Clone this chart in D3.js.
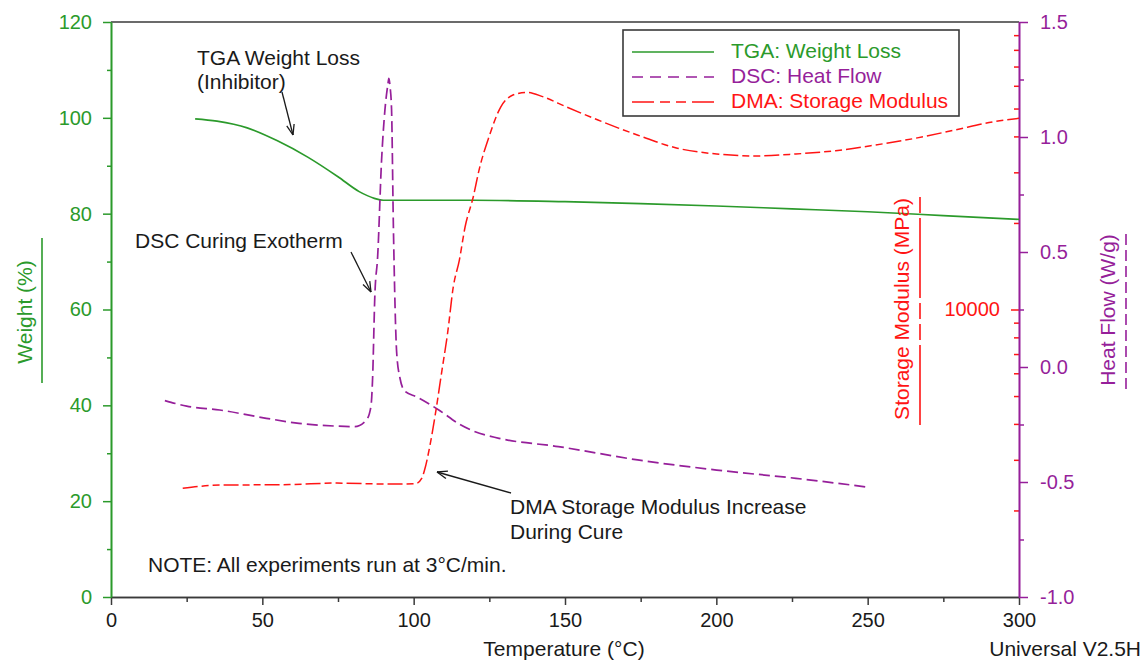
<!DOCTYPE html>
<html>
<head>
<meta charset="utf-8">
<script src="https://cdn.jsdelivr.net/npm/d3@7"></script>
<style>
  body { margin: 0; background: #fff; }
  text { font-family: "Liberation Sans", Arial, sans-serif; }
</style>
</head>
<body>
<svg id="chart" width="1146" height="660"></svg>
<script>
// TGA weight loss (%)
const tgaTemp = [27.8, 35, 45, 55, 65, 75, 82, 87, 90, 120, 150, 175, 200, 225, 250, 275, 300];
const tgaWeight = [99.8, 99.3, 97.9, 95.2, 91.8, 87.7, 84.6, 83.2, 82.8, 82.8, 82.5, 82.1, 81.6, 81.0, 80.4, 79.6, 78.8];

// DSC heat flow (W/g)
const dscTemp = [17.8, 25, 35.9, 51.3, 62.1, 74.4, 80.5, 84.4, 85.9, 86.4, 87.2, 88.1, 89.4, 90.5, 91.5, 91.8, 92.2, 92.7, 93.3, 94.4, 95.5, 97.1, 101, 108.3, 115.3, 120, 128.2, 147.8, 174, 200.1, 226.3, 250.5];
const dscHeatFlow = [-0.146, -0.17, -0.187, -0.223, -0.245, -0.257, -0.259, -0.23, -0.17, -0.06, 0.32, 0.48, 0.9, 1.117, 1.23, 1.255, 1.22, 1.117, 0.61, 0.06, -0.05, -0.105, -0.13, -0.187, -0.25, -0.28, -0.31, -0.346, -0.404, -0.448, -0.484, -0.523];

// DMA storage modulus (MPa), log axis
const dmaTemp = [23.7, 36, 59, 74.3, 92.8, 100.7, 102.7, 103.6, 105.3, 107.2, 109.2, 111.2, 113.1, 115.1, 117, 119.7, 121.6, 124.9, 128.8, 132.8, 137.3, 142.6, 150.4, 160.9, 173.9, 187.1, 200.1, 213.2, 226.3, 239.4, 252.5, 265.6, 278.7, 291.7, 300];
const dmaModulus = [2390, 2450, 2460, 2490, 2470, 2480, 2590, 2765, 3330, 4350, 6000, 8260, 12000, 14860, 19400, 24670, 30550, 39900, 50700, 55700, 56900, 55000, 50700, 45600, 40450, 36400, 34750, 34200, 34750, 35670, 37330, 39380, 42070, 45000, 46240];

const tempTicks = [0, 50, 100, 150, 200, 250, 300];
const tempMinorTicks = [25, 75, 125, 175, 225, 275];
const weightTicks = [0, 20, 40, 60, 80, 100, 120];
const weightMinorTicks = [10, 30, 50, 70, 90, 110];
const heatTicks = [-1.0, -0.5, 0.0, 0.5, 1.0, 1.5];
const heatMinorTicks = [-0.75, -0.25, 0.25, 0.75, 1.25];
const modulusMajorTicks = [10000];
const modulusMinorTicks = [2000, 3000, 4000, 5000, 6000, 7000, 8000, 9000, 20000, 30000, 40000, 50000, 60000, 70000, 80000, 90000];

const legendLabels = ["TGA: Weight Loss", "DSC: Heat Flow", "DMA: Storage Modulus"];

const GREEN = "#2b9a2b";
const PURPLE = "#961f9a";
const RED = "#ff1414";
const FRAME = "#3a3a3a";
const INK = "#1a1a1a";

const svg = d3.select("#chart");
const plotL = 111, plotR = 1019, plotT = 22, plotB = 597;

const x = d3.scaleLinear().domain([0, 300]).range([plotL, plotR]);
const yW = d3.scaleLinear().domain([0, 120]).range([plotB, plotT]);
const yH = d3.scaleLinear().domain([-1, 1.5]).range([plotB, plotT]);
const yM = d3.scaleLog().domain([1000, 100000]).range([plotB, plotT]);

function styleAxis(g, color, textColor, size) {
  g.select(".domain").attr("stroke", color).attr("stroke-width", 1.6);
  g.selectAll(".tick line").attr("stroke", color).attr("stroke-width", 1.5);
  g.selectAll(".tick text").attr("fill", textColor).attr("font-size", size).attr("font-family", null);
}

// top frame line
svg.append("line")
  .attr("x1", plotL).attr("x2", plotR).attr("y1", plotT).attr("y2", plotT)
  .attr("stroke", FRAME).attr("stroke-width", 1.6);

// bottom axis
svg.append("g").attr("transform", `translate(0,${plotB})`)
  .call(d3.axisBottom(x).tickValues(tempMinorTicks).tickSize(5).tickSizeOuter(0).tickFormat(""))
  .call((g) => styleAxis(g, FRAME, INK, 20));
svg.append("g").attr("transform", `translate(0,${plotB})`)
  .call(d3.axisBottom(x).tickValues(tempTicks).tickSize(8).tickPadding(8).tickSizeOuter(0))
  .call((g) => styleAxis(g, FRAME, INK, 20));

// left weight axis
svg.append("g").attr("transform", `translate(${plotL},0)`)
  .call(d3.axisLeft(yW).tickValues(weightMinorTicks).tickSize(4).tickSizeOuter(0).tickFormat(""))
  .call((g) => styleAxis(g, GREEN, GREEN, 20));
svg.append("g").attr("transform", `translate(${plotL},0)`)
  .call(d3.axisLeft(yW).tickValues(weightTicks).tickSize(8).tickPadding(11).tickSizeOuter(0))
  .call((g) => styleAxis(g, GREEN, GREEN, 20));

// storage modulus ticks (inside, red)
svg.append("g").attr("transform", `translate(${plotR},0)`)
  .call(d3.axisLeft(yM).tickValues(modulusMinorTicks).tickSize(5).tickSizeOuter(0).tickFormat(""))
  .call((g) => styleAxis(g, RED, RED, 20))
  .call((g) => g.select(".domain").remove());
svg.append("g").attr("transform", `translate(${plotR},0)`)
  .call(d3.axisLeft(yM).tickValues(modulusMajorTicks).tickSize(8).tickPadding(11).tickSizeOuter(0).tickFormat((d) => String(d)))
  .call((g) => styleAxis(g, RED, RED, 20))
  .call((g) => g.select(".domain").remove());

// heat flow axis (right, purple)
svg.append("g").attr("transform", `translate(${plotR},0)`)
  .call(d3.axisRight(yH).tickValues(heatMinorTicks).tickSize(5).tickSizeOuter(0).tickFormat(""))
  .call((g) => styleAxis(g, PURPLE, PURPLE, 20));
svg.append("g").attr("transform", `translate(${plotR},0)`)
  .call(d3.axisRight(yH).tickValues(heatTicks).tickSize(9).tickPadding(12).tickSizeOuter(0).tickFormat((d) => d.toFixed(1)))
  .call((g) => styleAxis(g, PURPLE, PURPLE, 20));

// curves
const tgaLine = d3.line().curve(d3.curveMonotoneX).x((d, i) => x(tgaTemp[i])).y((d) => yW(d));
svg.append("path").datum(tgaWeight)
  .attr("fill", "none").attr("stroke", GREEN).attr("stroke-width", 1.7)
  .attr("d", tgaLine);

const dscLine = d3.line().curve(d3.curveMonotoneX).x((d, i) => x(dscTemp[i])).y((d) => yH(d));
svg.append("path").datum(dscHeatFlow)
  .attr("fill", "none").attr("stroke", PURPLE).attr("stroke-width", 1.7)
  .attr("stroke-dasharray", "11,5")
  .attr("d", dscLine);

const dmaLine = d3.line().curve(d3.curveMonotoneX).x((d, i) => x(dmaTemp[i])).y((d) => yM(d));
svg.append("path").datum(dmaModulus)
  .attr("fill", "none").attr("stroke", RED).attr("stroke-width", 1.5)
  .attr("stroke-dasharray", "15,4,7,4,7,4")
  .attr("d", dmaLine);

// legend
const legend = svg.append("g");
legend.append("rect")
  .attr("x", 623).attr("y", 30).attr("width", 336).attr("height", 86)
  .attr("fill", "#fff").attr("stroke", FRAME).attr("stroke-width", 1.6);
const legendColors = [GREEN, PURPLE, RED];
const legendDash = [null, "11,7", "22,6,10,6,10,6"];
const legendY = d3.scalePoint().domain(legendLabels).range([52, 102]);
legendLabels.forEach((label, i) => {
  legend.append("line")
    .attr("x1", 632).attr("x2", 714)
    .attr("y1", legendY(label)).attr("y2", legendY(label))
    .attr("stroke", legendColors[i]).attr("stroke-width", 1.7)
    .attr("stroke-dasharray", legendDash[i]);
  legend.append("text")
    .attr("x", 731).attr("y", legendY(label) + 6)
    .attr("font-size", 21).attr("fill", legendColors[i])
    .text(label);
});

// axis titles
svg.append("text")
  .attr("transform", "translate(32,312) rotate(-90)")
  .attr("text-anchor", "middle").attr("font-size", 21).attr("fill", GREEN)
  .text("Weight (%)");
svg.append("line")
  .attr("x1", 42).attr("x2", 42).attr("y1", 238).attr("y2", 383)
  .attr("stroke", GREEN).attr("stroke-width", 1.6);

svg.append("text")
  .attr("transform", "translate(909,309) rotate(-90)")
  .attr("text-anchor", "middle").attr("font-size", 21).attr("fill", RED)
  .text("Storage Modulus (MPa)");
svg.append("line")
  .attr("x1", 920).attr("x2", 920).attr("y1", 425).attr("y2", 194)
  .attr("stroke", RED).attr("stroke-width", 1.6)
  .attr("stroke-dasharray", "80,5,16,5,16,5");

svg.append("text")
  .attr("transform", "translate(1115,310) rotate(-90)")
  .attr("text-anchor", "middle").attr("font-size", 21).attr("fill", PURPLE)
  .text("Heat Flow (W/g)");
svg.append("line")
  .attr("x1", 1126).attr("x2", 1126).attr("y1", 389).attr("y2", 232)
  .attr("stroke", PURPLE).attr("stroke-width", 1.6)
  .attr("stroke-dasharray", "11,5");

svg.append("text")
  .attr("x", 564).attr("y", 656)
  .attr("text-anchor", "middle").attr("font-size", 21).attr("fill", INK)
  .text("Temperature (°C)");
svg.append("text")
  .attr("x", 1141).attr("y", 656)
  .attr("text-anchor", "end").attr("font-size", 21).attr("fill", INK)
  .text("Universal V2.5H");

// annotations
function arrow(x1, y1, x2, y2) {
  const g = svg.append("g").attr("stroke", INK).attr("stroke-width", 1.3).attr("fill", "none");
  g.append("line").attr("x1", x1).attr("y1", y1).attr("x2", x2).attr("y2", y2);
  const a = Math.atan2(y2 - y1, x2 - x1);
  [0.35, -0.35].forEach((da) => {
    g.append("line")
      .attr("x1", x2).attr("y1", y2)
      .attr("x2", x2 - 11 * Math.cos(a + da)).attr("y2", y2 - 11 * Math.sin(a + da));
  });
}

const noteText = [
  { x: 197, y: 65, t: "TGA Weight Loss" },
  { x: 197, y: 89, t: "(Inhibitor)" },
  { x: 135, y: 248, t: "DSC Curing Exotherm" },
  { x: 510, y: 514, t: "DMA Storage Modulus Increase" },
  { x: 510, y: 539, t: "During Cure" },
  { x: 148, y: 572, t: "NOTE: All experiments run at 3°C/min." }
];
noteText.forEach((n) => {
  svg.append("text").attr("x", n.x).attr("y", n.y)
    .attr("font-size", 21).attr("fill", INK).text(n.t);
});

arrow(282, 92, 293, 135);
arrow(351, 252, 371, 292);
arrow(511, 493, 437, 472);
</script>
</body>
</html>
